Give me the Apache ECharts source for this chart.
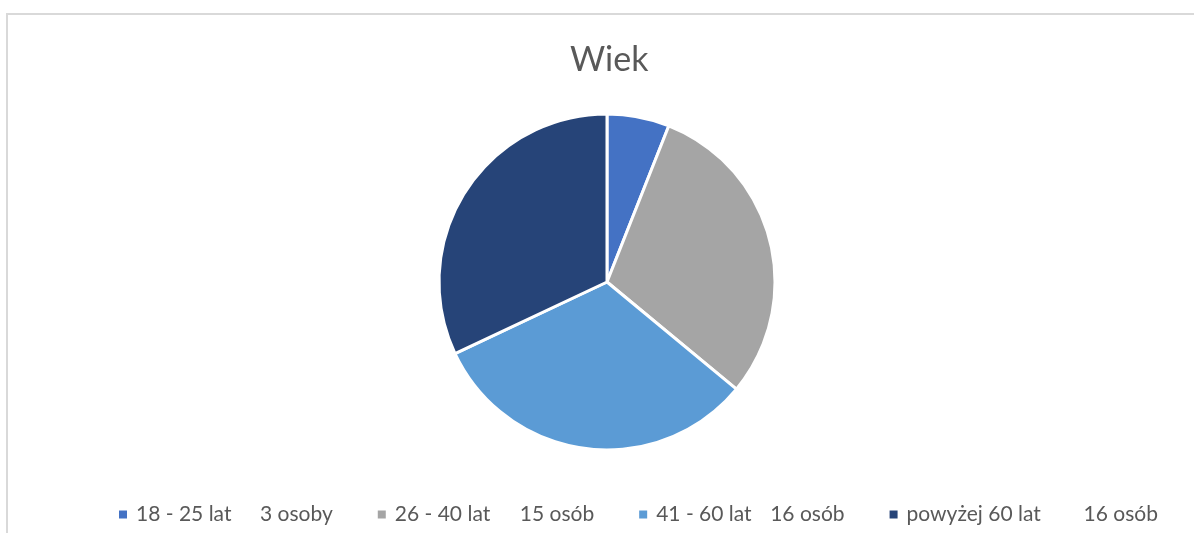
<!DOCTYPE html>
<html>
<head>
<meta charset="utf-8">
<script src="https://cdn.jsdelivr.net/npm/echarts@6/dist/echarts.min.js"></script>
<style>
  html, body { margin: 0; padding: 0; background: #fff; }
  #chart { width: 1194px; height: 533px; }
</style>
</head>
<body>
<div id="chart"></div>
<script>
const ageGroups = ['18 - 25 lat', '26 - 40 lat', '41 - 60 lat', 'powyżej 60 lat']
const counts = [3, 15, 16, 16]
const countLabels = ['3 osoby', '15 osób', '16 osób', '16 osób']
const sliceColors = ['#4472c4', '#a5a5a5', '#5b9bd5', '#264478']

// szerokosci kolumn w legendzie (tabulacja jak w Excelu)
const nameWidths = [124, 125, 114, 177]
const countWidths = [75, 77, 80, 73]

const chart = echarts.init(document.getElementById('chart'))

const rich = {}
ageGroups.forEach((g, i) => {
  rich['a' + i] = { width: nameWidths[i], fontSize: 21, color: '#595959', fontFamily: 'Lato' }
  rich['b' + i] = { width: countWidths[i], fontSize: 21, color: '#595959', fontFamily: 'Lato' }
})

const option = {
  backgroundColor: '#fff',
  animation: false,
  title: {
    text: 'Wiek',
    left: 565,
    top: 38,
    textStyle: { fontFamily: 'Lato', fontSize: 34, fontWeight: 'normal', color: '#595959' }
  },
  graphic: [{
    type: 'rect',
    shape: { x: 7, y: 14, width: 1200, height: 600 },
    style: { fill: 'none', stroke: '#d9d9d9', lineWidth: 2 },
    silent: true
  }],
  legend: {
    left: 112,
    top: 499,
    itemWidth: 10,
    itemHeight: 10,
    itemGap: 43,
    icon: 'rect',
    data: ageGroups,
    formatter: name => {
      const i = ageGroups.indexOf(name)
      return '{a' + i + '|' + name + '}{b' + i + '|' + countLabels[i] + '}'
    },
    textStyle: { rich: rich, padding: [0, 0, 0, 3] }
  },
  series: [{
    type: 'pie',
    center: [607, 282],
    radius: [0, 168],
    startAngle: 90,
    clockwise: true,
    label: { show: false },
    labelLine: { show: false },
    itemStyle: { borderColor: '#fff', borderWidth: 3 },
    emphasis: { disabled: true },
    data: ageGroups.map((g, i) => ({
      name: g,
      value: counts[i],
      itemStyle: { color: sliceColors[i] }
    }))
  }]
}

chart.setOption(option)
</script>
</body>
</html>
